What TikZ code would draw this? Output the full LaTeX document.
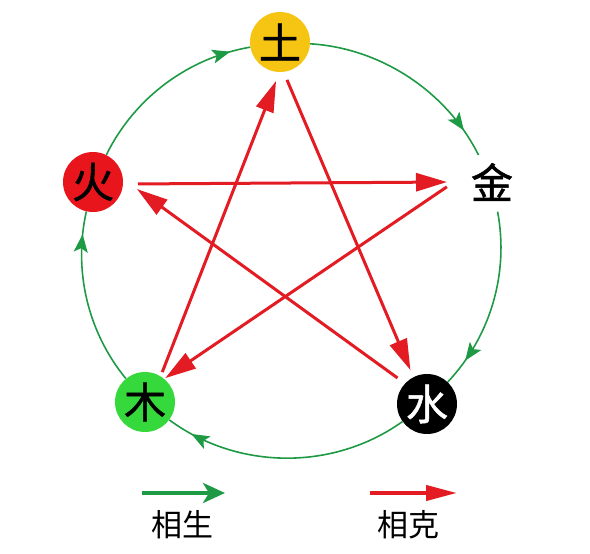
\documentclass[tikz,border=0pt]{standalone}
\usepackage{fontspec}
\newfontfamily\cjk{Noto Sans CJK SC}
\newfontfamily\cjkm{Noto Sans CJK SC}[FakeBold=1.2]
\usetikzlibrary{arrows.meta,decorations.markings}
\definecolor{tuY}{HTML}{F6C413}
\definecolor{huoR}{HTML}{E8151D}
\definecolor{muG}{HTML}{35D93C}
\definecolor{shengG}{HTML}{1E9A45}
\definecolor{keR}{HTML}{E31C23}
\begin{document}
\begin{tikzpicture}[x=1pt,y=1pt]
\useasboundingbox (0,0) rectangle (590,554);
\tikzset{
  elem/.style={circle, minimum size=60pt, inner sep=0pt, font=\cjkm\fontsize{42}{42}\selectfont},
  legtext/.style={inner sep=0pt, font=\cjk\fontsize{31}{31}\selectfont},
  sheng/.style={color=shengG, line width=1.6pt},
  ke/.style={draw=keR, fill=keR, line width=3pt, -{Triangle[length=31pt,width=18pt]}},
  gmark/.style={postaction=decorate, decoration={markings,
      mark=at position #1 with {\arrow{Stealth[length=18pt,width=14pt,inset=4pt]}}}}
}
% elements
\node[elem, fill=tuY] (tu) at (280,512) {土};
\node[elem] (jin) at (492,372) {金};
\node[elem, fill=black, text=white] (shui) at (427,150) {水};
\node[elem, fill=muG] (mu) at (145,152) {木};
\node[elem, fill=huoR] (huo) at (93,372) {火};
% star vertices next to each element
\coordinate (ktu) at (281.5,487);
\coordinate (kjin) at (454,372);
\coordinate (kshui) at (421,159);
\coordinate (kmu) at (158,171);
\coordinate (khuo) at (130,370);
% sheng cycle
\draw[sheng, gmark=0.89] (huo) to[bend left=27, looseness=0.9] (tu);
\draw[sheng, gmark=0.865] (tu) to[bend left=30, looseness=0.9] (jin);
\draw[sheng, gmark=0.85] (jin) to[bend left=27, looseness=0.9] (shui);
\draw[sheng, gmark=0.895] (shui) to[bend left=36, looseness=0.93] (mu);
\draw[sheng, gmark=0.87] (mu) to[bend left=26, looseness=0.9] (huo);
% ke star
\draw[ke, shorten <=8pt, shorten >=7pt] (khuo) -- (kjin);
\draw[ke, shorten <=29pt, shorten >=8.6pt] (kshui) -- (khuo);
\draw[ke, shorten <=8.6pt, shorten >=8.6pt] (kjin) -- (kmu);
\draw[ke, shorten <=11.7pt, shorten >=15pt] (kmu) -- (ktu);
\draw[ke, shorten <=14pt, shorten >=27pt] (ktu) -- (kshui);
% legend
\coordinate (gs) at (142,61);
\coordinate (ge) at (225,61);
\coordinate (rs) at (370,61);
\coordinate (re) at (457,61);
\draw[color=shengG, line width=4pt, -{Stealth[length=22pt,width=20pt,inset=6pt]}] (gs) -- (ge);
\draw[draw=keR, fill=keR, line width=4pt, -{Triangle[length=31pt,width=15pt]}] (rs) -- (re);
\node[legtext] (lsheng) at (182,29) {相生};
\node[legtext] (lke) at (408,29) {相克};
\end{tikzpicture}
\end{document}
